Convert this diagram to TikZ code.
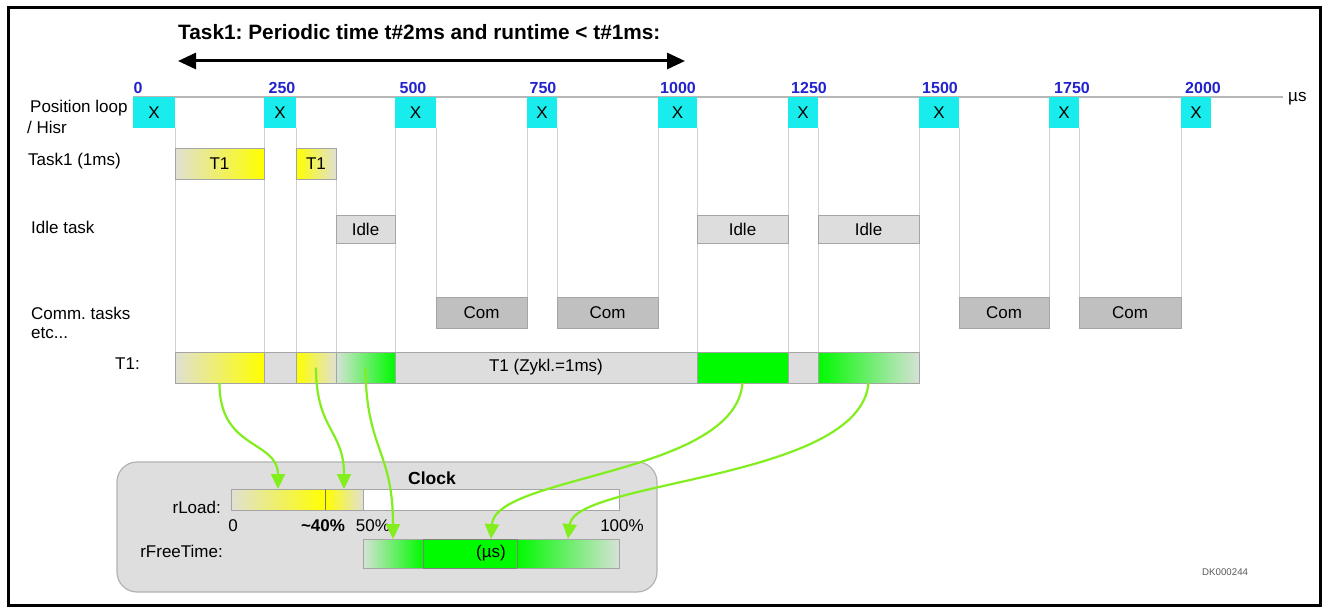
\documentclass[tikz,border=0pt]{standalone}
\usepackage{fontspec}
\setmainfont{Liberation Sans}
\frenchspacing
\usetikzlibrary{arrows.meta,calc,backgrounds}
\definecolor{xcyan}{RGB}{24,236,236}
\definecolor{lgray}{RGB}{221,221,221}
\definecolor{bgray}{RGB}{165,165,165}
\definecolor{cgray}{RGB}{192,192,192}
\definecolor{ylw}{RGB}{255,255,0}
\definecolor{grn}{RGB}{0,250,0}
\definecolor{gy}{RGB}{224,224,210}
\definecolor{gg}{RGB}{214,226,214}
\definecolor{agrn}{RGB}{130,238,30}
\definecolor{tblue}{RGB}{35,35,205}
\definecolor{guidec}{RGB}{208,208,208}
\definecolor{clockbg}{RGB}{222,222,222}
\newcommand\myfs{\fontsize{17}{20}\selectfont}
\newcommand\mybox[7]{%
  \node[#6, minimum width={#4-#2}, minimum height={#5-#3}] (#1) at ({(#2+#4)/2},{(#3+#5)/2}) {#7};}
\tikzset{
  bx/.style={inner sep=0pt, outer sep=0pt, font=\myfs, text=black},
  xb/.style={bx, fill=xcyan},
  gb/.style={bx, fill=lgray, draw=bgray, line width=0.8pt},
  cb/.style={bx, fill=cgray, draw=bgray, line width=0.8pt},
  guide/.style={draw=guidec, line width=0.9pt},
  rowlbl/.style={font=\myfs, inner sep=0pt, anchor=base west},
  ticklbl/.style={font=\bfseries\fontsize{16}{18}\selectfont, text=tblue, inner sep=0pt, anchor=base},
  garrow/.style={draw=agrn, line width=2.2pt, -{Triangle[length=15pt,width=14pt]}},
  plain/.style={font=\myfs, inner sep=0pt},
}
\begin{document}
\begin{tikzpicture}[x=1pt,y=-1pt]
\useasboundingbox (0,0) rectangle (1326,610);
\draw[line width=3pt] (8,8) rectangle (1320,605);

% title and arrow
\node[font=\bfseries\fontsize{20.8}{24}\selectfont, anchor=base west, inner sep=0pt] (title) at (178,40) {Task1: Periodic time t\#2ms and runtime < t\#1ms:};
\coordinate (tl) at (178,61);
\coordinate (tr) at (685,61);
\draw[line width=3pt, {Triangle[length=18pt,width=16pt]}-{Triangle[length=18pt,width=16pt]}] (tl) -- (tr);

% time axis
\coordinate (axL) at (133,97);
\coordinate (axR) at (1283,97);
\node[plain, anchor=base west] (mus) at (1288,102) {µs};

% tick labels
\node[ticklbl] (t0) at (138,93) {0};
\node[ticklbl] (t1) at (282,93) {250};
\node[ticklbl] (t2) at (413,93) {500};
\node[ticklbl] (t3) at (543,93) {750};
\node[ticklbl] (t4) at (678,93) {1000};
\node[ticklbl] (t5) at (809,93) {1250};
\node[ticklbl] (t6) at (940,93) {1500};
\node[ticklbl] (t7) at (1072,93) {1750};
\node[ticklbl] (t8) at (1203,93) {2000};

% row labels
\node[rowlbl] (lpos) at (30,112) {Position loop};
\node[rowlbl] (lhisr) at (27,133) {/ Hisr};
\node[rowlbl] (ltask) at (28,165) {Task1 (1ms)};
\node[rowlbl] (lidle) at (31,233) {Idle task};
\node[rowlbl] (lcomm) at (31,319) {Comm. tasks};
\node[rowlbl] (letc) at (31,338) {etc...};
\node[plain, anchor=base east] (lt1) at (140,369) {T1:};

% X boxes
\mybox{x0}{133}{97}{175}{128}{xb}{X}
\mybox{x1}{264}{97}{296}{128}{xb}{X}
\mybox{x2}{395}{97}{436}{128}{xb}{X}
\mybox{x3}{527}{97}{557}{128}{xb}{X}
\mybox{x4}{658}{97}{697}{128}{xb}{X}
\mybox{x5}{788}{97}{818}{128}{xb}{X}
\mybox{x6}{919}{97}{959}{128}{xb}{X}
\mybox{x7}{1049}{97}{1079}{128}{xb}{X}
\mybox{x8}{1181}{97}{1211}{128}{xb}{X}

% Task1 boxes
\mybox{ta}{175}{148}{264}{179}{gb, left color=gy, right color=ylw}{T1}
\mybox{tb}{296}{148}{336}{179}{gb, left color=ylw, right color=gy}{T1}

% Idle boxes
\mybox{i1}{336}{215}{395}{243}{gb}{Idle}
\mybox{i2}{697}{215}{788}{243}{gb}{Idle}
\mybox{i3}{818}{215}{919}{243}{gb}{Idle}

% Com boxes
\mybox{c1}{436}{297}{527}{328}{cb}{Com}
\mybox{c2}{557}{297}{658}{328}{cb}{Com}
\mybox{c3}{959}{297}{1049}{328}{cb}{Com}
\mybox{c4}{1079}{297}{1181}{328}{cb}{Com}

% T1 bar
\mybox{s1}{175}{352}{264}{383}{gb, left color=gy, right color=ylw}{}
\mybox{s2}{264}{352}{296}{383}{gb}{}
\mybox{s3}{296}{352}{336}{383}{gb, left color=ylw, right color=gy}{}
\mybox{s4}{336}{352}{395}{383}{gb, left color=gg, right color=grn}{}
\mybox{s5}{395}{352}{697}{383}{gb}{T1 (Zykl.=1ms)}
\mybox{s6}{697}{352}{788}{383}{gb, fill=grn}{}
\mybox{s7}{788}{352}{818}{383}{gb}{}
\mybox{s8}{818}{352}{919}{383}{gb, left color=grn, right color=gg}{}

% guides and axis (background)
\begin{scope}[on background layer]
\draw[draw=bgray!80, line width=1.6pt] (axL) -- (axR);
\draw[guide] (x0.south east) -- (x0.south east |- s1.north);
\draw[guide] (x1.south west) -- (x1.south west |- s2.north);
\draw[guide] (x1.south east) -- (x1.south east |- s2.north);
\draw[guide] (tb.south east) -- (tb.south east |- s4.north);
\draw[guide] (x2.south west) -- (x2.south west |- s5.north);
\draw[guide] (x2.south east) -- (x2.south east |- c1.north);
\draw[guide] (x3.south west) -- (x3.south west |- c1.north);
\draw[guide] (x3.south east) -- (x3.south east |- c2.north);
\draw[guide] (x4.south west) -- (x4.south west |- c2.north);
\draw[guide] (x4.south east) -- (x4.south east |- s6.north);
\draw[guide] (x5.south west) -- (x5.south west |- s7.north);
\draw[guide] (x5.south east) -- (x5.south east |- s8.north);
\draw[guide] (x6.south west) -- (x6.south west |- s8.north);
\draw[guide] (x6.south east) -- (x6.south east |- c3.north);
\draw[guide] (x7.south west) -- (x7.south west |- c3.north);
\draw[guide] (x7.south east) -- (x7.south east |- c4.north);
\draw[guide] (x8.south west) -- (x8.south west |- c4.north);
\end{scope}

% Clock panel
\mybox{clock}{117}{462}{657}{592}{bx, fill=clockbg, draw=bgray!85, line width=1.2pt, rounded corners=20pt}{}
\node[font=\bfseries\fontsize{17.5}{20}\selectfont, anchor=base, inner sep=0pt] (clk) at (432,484) {Clock};
\mybox{load}{231}{489}{619}{510}{bx, fill=white, draw=bgray, line width=0.8pt}{}
\mybox{la}{231}{489}{325}{510}{bx, draw=bgray, line width=0.8pt, left color=gy, right color=ylw}{}
\mybox{lb}{325}{489}{363}{510}{bx, draw=bgray, line width=0.8pt, left color=ylw, right color=gy}{}
\draw[black!55, line width=0.8pt] (la.north east) -- (la.south east);
\node[plain, anchor=base east] (lload) at (221,513) {rLoad:};
\node[plain, anchor=base] (p0) at (233,531) {0};
\node[font=\bfseries\fontsize{17}{20}\selectfont, inner sep=0pt, anchor=base] (p40) at (323,531) {\textasciitilde40\%};
\node[plain, anchor=base] (p50) at (373,531) {50\%};
\node[plain, anchor=base] (p100) at (622,531) {100\%};
\mybox{fa}{363}{539}{423}{568}{bx, draw=bgray, line width=0.8pt, left color=gg, right color=grn}{}
\mybox{fb}{423}{539}{517}{568}{bx, draw=black!50, line width=0.8pt, fill=grn}{}
\mybox{fc}{517}{539}{619}{568}{bx, draw=bgray, line width=0.8pt, left color=grn, right color=gg}{}
\draw[black!50, line width=0.8pt] (fb.north west) -- (fb.south west) (fb.north east) -- (fb.south east);
\node[plain] (mu) at (491,553.5) {(µs)};
\node[plain, anchor=base east] (lfree) at (223,557) {rFreeTime:};

\node[font=\fontsize{9.7}{11}\selectfont, text=black!65, inner sep=0pt, anchor=base west] (dk) at (1202,575) {DK000244};

% green connectors
\draw[garrow] (s1.south) .. controls (219,450) and (278,440) .. (la.north);
\draw[garrow] (s3.center) .. controls (316,430) and (344,430) .. (lb.north);
\draw[garrow] (s4.center) .. controls (366,450) and (393,450) .. (fa.north);
\draw[garrow] (s6.south) .. controls (735,475) and (495,475) .. (mu |- fb.north);
\draw[garrow] (s8.south) .. controls (860,480) and (575,480) .. (fc.north);
\end{tikzpicture}
\end{document}
